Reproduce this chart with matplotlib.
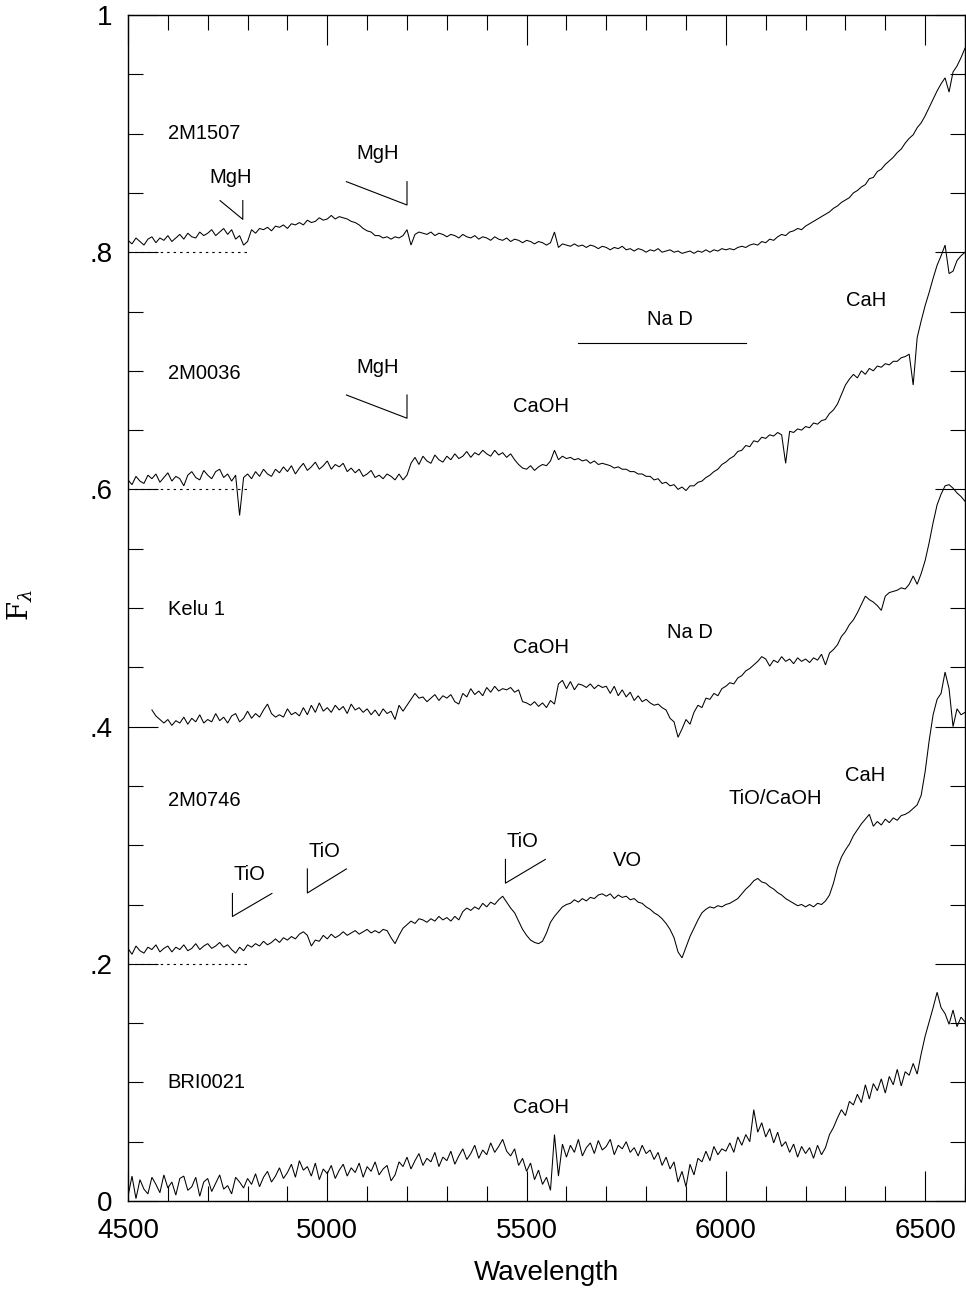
import numpy as np
import matplotlib
matplotlib.use("Agg")
import matplotlib.pyplot as plt
from matplotlib.ticker import MultipleLocator, FixedLocator

plt.rcParams['font.family'] = ['Liberation Sans', 'DejaVu Sans']
plt.rcParams['mathtext.fontset'] = 'dejavuserif'

# ---------------------------------------------------------------------------
# Spectra (offset for display), sampled every 10 Angstrom
# ---------------------------------------------------------------------------
wl_full = np.arange(4500, 6601, 10)
wl_kelu = np.arange(4560, 6601, 10)

flux_2m1507 = [
    .810, .807, .812, .809, .806, .811, .813, .808, .812, .810,
    .814, .809, .812, .815, .811, .816, .813, .812, .817, .814,
    .816, .819, .814, .817, .820, .815, .819, .811, .814, .806,
    .809, .819, .816, .820, .819, .821, .818, .822, .821, .823,
    .820, .824, .823, .825, .823, .827, .825, .826, .829, .827,
    .828, .831, .828, .830, .829, .828, .826, .825, .823, .820,
    .818, .817, .814, .814, .812, .813, .811, .813, .812, .814,
    .819, .806, .815, .817, .816, .815, .817, .814, .816, .815,
    .813, .815, .814, .812, .815, .813, .812, .814, .811, .813,
    .812, .810, .813, .811, .810, .812, .809, .811, .810, .808,
    .810, .809, .807, .809, .808, .806, .808, .817, .804, .807,
    .806, .805, .807, .805, .806, .804, .806, .805, .803, .805,
    .804, .802, .804, .803, .805, .802, .803, .801, .803, .802,
    .800, .802, .801, .803, .800, .801, .802, .800, .801, .799,
    .800, .801, .799, .801, .800, .802, .800, .802, .801, .803,
    .802, .803, .802, .804, .805, .804, .806, .807, .806, .809,
    .808, .811, .810, .813, .815, .814, .817, .818, .820, .819,
    .822, .824, .826, .828, .830, .832, .834, .837, .839, .842,
    .844, .846, .850, .852, .855, .857, .862, .863, .868, .870,
    .874, .877, .880, .884, .887, .892, .896, .899, .905, .909,
    .915, .922, .929, .936, .942, .947, .935, .952, .957, .964,
    .972]

flux_2m0036 = [
    .608, .604, .611, .607, .605, .612, .609, .613, .606, .610,
    .614, .607, .611, .609, .603, .612, .615, .610, .608, .616,
    .612, .609, .615, .617, .610, .613, .607, .612, .578, .610,
    .613, .609, .615, .611, .617, .613, .611, .617, .614, .619,
    .615, .620, .613, .618, .622, .616, .619, .623, .617, .620,
    .624, .617, .621, .619, .622, .615, .618, .614, .617, .611,
    .613, .616, .610, .612, .609, .613, .611, .608, .613, .608,
    .612, .622, .627, .621, .628, .624, .622, .629, .625, .623,
    .628, .625, .630, .626, .628, .632, .627, .631, .629, .633,
    .630, .628, .633, .629, .631, .627, .630, .625, .621, .618,
    .617, .620, .616, .619, .621, .620, .624, .633, .625, .628,
    .626, .627, .625, .626, .624, .625, .622, .624, .621, .622,
    .621, .620, .618, .619, .617, .617, .615, .615, .613, .613,
    .611, .611, .608, .609, .605, .606, .603, .604, .600, .602,
    .599, .603, .603, .606, .607, .610, .612, .615, .617, .621,
    .623, .626, .628, .632, .633, .637, .636, .641, .640, .644,
    .643, .646, .645, .648, .646, .622, .649, .648, .651, .650,
    .653, .652, .656, .655, .658, .659, .664, .667, .672, .680,
    .688, .693, .697, .694, .700, .697, .702, .700, .704, .703,
    .706, .705, .708, .708, .711, .712, .714, .688, .728, .742,
    .755, .766, .778, .789, .797, .806, .782, .784, .793, .797,
    .800]

flux_kelu1 = [
    .414, .409, .406, .403, .406, .401, .405, .403, .408, .402,
    .407, .404, .410, .403, .406, .404, .411, .405, .408, .403,
    .409, .411, .404, .407, .413, .407, .411, .408, .414, .419,
    .411, .408, .410, .408, .415, .410, .412, .409, .416, .410,
    .418, .412, .420, .413, .416, .412, .418, .414, .417, .411,
    .419, .414, .416, .412, .415, .410, .414, .409, .415, .411,
    .413, .406, .418, .413, .418, .423, .428, .424, .425, .421,
    .424, .427, .422, .426, .424, .427, .421, .419, .428, .425,
    .432, .427, .430, .426, .433, .429, .434, .430, .432, .431,
    .433, .429, .431, .421, .420, .418, .421, .417, .420, .416,
    .422, .419, .436, .439, .432, .438, .431, .436, .435, .433,
    .436, .432, .435, .433, .434, .428, .434, .426, .431, .425,
    .429, .422, .426, .421, .423, .420, .418, .419, .416, .414,
    .407, .404, .391, .398, .406, .402, .412, .418, .416, .424,
    .423, .428, .426, .432, .434, .437, .436, .441, .443, .447,
    .449, .452, .455, .459, .457, .451, .456, .454, .459, .455,
    .457, .453, .458, .455, .457, .454, .458, .456, .461, .452,
    .462, .465, .469, .476, .480, .486, .490, .496, .503, .510,
    .507, .505, .502, .498, .510, .513, .514, .515, .517, .516,
    .520, .527, .520, .529, .540, .555, .572, .587, .596, .603,
    .604, .601, .597, .594, .590]

flux_2m0746 = [
    .213, .208, .215, .211, .209, .214, .212, .216, .210, .213,
    .215, .210, .214, .212, .216, .211, .213, .217, .212, .215,
    .217, .213, .215, .218, .214, .216, .212, .209, .214, .211,
    .216, .214, .217, .215, .219, .216, .218, .221, .218, .222,
    .220, .223, .221, .225, .227, .224, .215, .220, .219, .224,
    .221, .225, .222, .224, .227, .224, .226, .228, .225, .227,
    .229, .226, .228, .226, .229, .228, .222, .217, .224, .230,
    .233, .236, .234, .238, .237, .235, .238, .236, .240, .237,
    .239, .236, .240, .237, .244, .247, .245, .248, .246, .251,
    .248, .252, .250, .254, .257, .252, .247, .243, .236, .229,
    .224, .220, .218, .217, .219, .226, .235, .240, .244, .248,
    .250, .251, .254, .252, .255, .253, .256, .255, .258, .259,
    .257, .259, .255, .258, .256, .257, .254, .255, .252, .251,
    .248, .246, .243, .241, .238, .234, .229, .222, .210, .205,
    .214, .223, .230, .237, .243, .246, .248, .247, .249, .248,
    .250, .251, .253, .255, .259, .263, .266, .270, .272, .269,
    .268, .265, .263, .260, .258, .255, .253, .251, .249, .250,
    .248, .250, .248, .251, .250, .253, .258, .268, .281, .290,
    .296, .301, .308, .313, .318, .322, .326, .316, .320, .317,
    .322, .319, .323, .321, .325, .326, .328, .331, .334, .342,
    .362, .388, .410, .423, .428, .446, .432, .400, .415, .410,
    .412]

flux_bri0021 = [
    .004, .021, .002, .018, .010, .006, .020, .014, .007, .022,
    .011, .016, .005, .019, .021, .009, .012, .020, .004, .016,
    .019, .008, .015, .022, .010, .013, .006, .020, .016, .011,
    .019, .014, .023, .012, .020, .025, .016, .021, .028, .019,
    .024, .031, .020, .034, .026, .029, .021, .032, .018, .027,
    .023, .030, .019, .026, .031, .021, .028, .024, .032, .020,
    .029, .025, .033, .022, .027, .030, .017, .022, .033, .029,
    .037, .027, .034, .040, .030, .036, .033, .041, .029, .037,
    .034, .042, .031, .038, .044, .035, .040, .047, .036, .043,
    .039, .049, .041, .046, .052, .042, .038, .044, .030, .036,
    .025, .032, .018, .026, .014, .020, .009, .056, .021, .048,
    .037, .047, .041, .052, .038, .045, .049, .040, .051, .043,
    .046, .052, .039, .047, .044, .050, .041, .045, .038, .047,
    .040, .043, .035, .041, .030, .037, .027, .033, .016, .025,
    .012, .031, .022, .036, .033, .042, .034, .046, .039, .044,
    .042, .049, .041, .054, .047, .056, .050, .077, .058, .066,
    .054, .061, .049, .058, .046, .050, .041, .048, .037, .046,
    .040, .045, .036, .047, .039, .045, .056, .062, .070, .077,
    .072, .084, .081, .090, .083, .098, .086, .099, .093, .103,
    .091, .105, .098, .111, .097, .109, .106, .116, .107, .124,
    .139, .151, .163, .176, .163, .158, .149, .161, .147, .155,
    .151]

star_names = ['2M1507', '2M0036', 'Kelu 1', '2M0746', 'BRI0021']
star_label_y = [0.900, 0.698, 0.499, 0.338, 0.100]
star_label_x = 4600

# zero-point references drawn as dotted stubs on the blue end
zero_levels = [0.8, 0.6, 0.2]
zero_stub = (4500, 4800)

# feature labels: text, wavelength, height
feature_text = ['MgH', 'MgH', 'MgH', 'Na D', 'CaH', 'CaOH', 'CaOH', 'Na D',
                'TiO', 'TiO', 'TiO', 'VO', 'TiO/CaOH', 'CaH', 'CaOH']
feature_x = [4758, 5127, 5127, 5860, 6351, 5535, 5535, 5910,
             4805, 4993, 5490, 5752, 6123, 6350, 5535]
feature_y = [0.863, 0.883, 0.703, 0.7435, 0.759, 0.6695, 0.467, 0.479,
             0.2757, 0.295, 0.3033, 0.287, 0.3395, 0.359, 0.0787]

# band heads degrading to the blue (MgH): start, head, top, bottom
mgh_start = [4731, 5048, 5048]
mgh_head = [4788, 5200, 5200]
mgh_top = [0.8435, 0.8595, 0.6796]
mgh_bottom = [0.8277, 0.8398, 0.6600]

# band heads degrading to the red (TiO): head, end, top, bottom
tio_head = [4762, 4950, 5447]
tio_end = [4861, 5048, 5547]
tio_top = [0.2593, 0.2800, 0.2880]
tio_bottom = [0.2399, 0.2597, 0.2680]

# Na D extent bar
nad_range = (5630, 6050)
nad_level = 0.7237

x_ticks = [4500, 5000, 5500, 6000, 6500]
y_ticks = [0, 0.2, 0.4, 0.6, 0.8, 1.0]
y_tick_labels = ['0', '.2', '.4', '.6', '.8', '1']

# ---------------------------------------------------------------------------
fig = plt.figure(figsize=(9.66, 12.95), dpi=100)
ax = fig.add_axes([128 / 966, 1 - 1201 / 1295, 837 / 966, 1186 / 1295])

spectra = [(wl_full, flux_2m1507), (wl_full, flux_2m0036), (wl_kelu, flux_kelu1),
           (wl_full, flux_2m0746), (wl_full, flux_bri0021)]
for wl, fl in spectra:
    ax.plot(wl, fl, color='black', lw=0.75, solid_joinstyle='miter')

for lev in zero_levels:
    ax.plot(zero_stub, [lev, lev], color='black', lw=0.8, dashes=(2.2, 3.6))

for name, yy in zip(star_names, star_label_y):
    ax.text(star_label_x, yy, name, fontsize=14.5, ha='left', va='center')

for t, xx, yy in zip(feature_text, feature_x, feature_y):
    ax.text(xx, yy, t, fontsize=14.5, ha='center', va='center')

for x0, x1, yt, yb in zip(mgh_start, mgh_head, mgh_top, mgh_bottom):
    ax.plot([x0, x1, x1], [yt, yb, yt], color='black', lw=0.8)

for x0, x1, yt, yb in zip(tio_head, tio_end, tio_top, tio_bottom):
    ax.plot([x0, x0, x1], [yt, yb, yt], color='black', lw=0.8)

ax.plot(nad_range, [nad_level, nad_level], color='black', lw=0.8)

ax.set_xlim(4500, 6600)
ax.set_ylim(0, 1)
ax.xaxis.set_major_locator(FixedLocator(x_ticks))
ax.xaxis.set_minor_locator(MultipleLocator(100))
ax.yaxis.set_major_locator(FixedLocator(y_ticks))
ax.yaxis.set_minor_locator(MultipleLocator(0.05))
ax.set_yticklabels(y_tick_labels)
ax.set_xticklabels([str(v) for v in x_ticks])

ax.tick_params(which='both', direction='in', top=True, right=True, width=0.8)
ax.tick_params(which='major', length=21.5)
ax.tick_params(which='minor', length=10.8)
ax.tick_params(axis='x', which='major', labelsize=20, pad=12)
ax.tick_params(axis='y', which='major', labelsize=20, pad=11)
for sp in ax.spines.values():
    sp.set_linewidth(1.0)

ax.set_xlabel('Wavelength', fontsize=20, labelpad=12)
fig.text(20 / 966, 1 - 605 / 1295, r'$\mathrm{F}_{\lambda}$', fontsize=20,
         rotation=90, ha='center', va='center')

fig.savefig('out.png', dpi=100)
